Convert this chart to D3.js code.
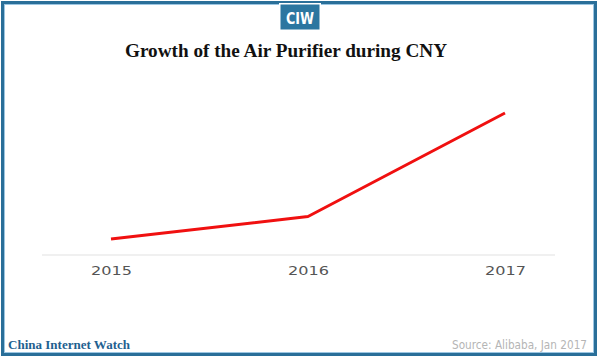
<!DOCTYPE html>
<html>
<head>
<meta charset="utf-8">
<script src="https://cdn.jsdelivr.net/npm/d3@7"></script>
<style>
  html, body { margin: 0; padding: 0; background: #fff; }
  svg { display: block; }
</style>
</head>
<body>
<svg id="chart" width="600" height="359"></svg>
<script>
// Data (relative growth index)
const years = [2015, 2016, 2017];
const values = [16, 38.5, 142];
const tickLabels = ["2015", "2016", "2017"];
const title = "Growth of the Air Purifier during CNY";
const sourceText = "Source: Alibaba, Jan 2017";
const brandText = "China Internet Watch";
const logoText = "CIW";

const svg = d3.select("#chart");

// Frame
svg.append("rect").attr("x", 2.5).attr("y", 2.5).attr("width", 593).attr("height", 352)
  .attr("fill", "none").attr("stroke", "#2a6f99").attr("stroke-width", 3);
svg.append("rect").attr("x", 4.5).attr("y", 4.5).attr("width", 589).attr("height", 348)
  .attr("fill", "none").attr("stroke", "#9cc6e2").attr("stroke-width", 1);

// Logo
svg.append("rect").attr("x", 279).attr("y", 3).attr("width", 42).attr("height", 28)
  .attr("fill", "#fff");
svg.append("rect").attr("x", 280.5).attr("y", 4.5).attr("width", 39).attr("height", 25)
  .attr("fill", "#2c76a0");
svg.append("text").attr("x", 300).attr("y", 24).attr("text-anchor", "middle")
  .attr("font-family", "DejaVu Sans Condensed, DejaVu Sans").attr("font-weight", "bold")
  .attr("font-size", 16).attr("fill", "#fff").attr("textLength", 28)
  .attr("lengthAdjust", "spacingAndGlyphs").text(logoText);

// Title
svg.append("text").attr("x", 286).attr("y", 57).attr("text-anchor", "middle")
  .attr("font-family", "Liberation Serif, DejaVu Serif, serif").attr("font-weight", "bold")
  .attr("font-size", 18).attr("fill", "#111").attr("textLength", 322)
  .attr("lengthAdjust", "spacingAndGlyphs").text(title);

// Scales
const x = d3.scaleLinear().domain([2015, 2017]).range([111, 505]);
const y = d3.scaleLinear().domain([0, 160]).range([255, 95]);

// Baseline
svg.append("line").attr("x1", 42).attr("x2", 555).attr("y1", y(0)).attr("y2", y(0))
  .attr("stroke", "#ebebeb").attr("stroke-width", 1.5);

// X axis labels via d3 axis
const axis = d3.axisBottom(x).tickValues(years).tickFormat((d, i) => tickLabels[i])
  .tickSize(0).tickPadding(10);
const gAxis = svg.append("g").attr("transform", `translate(0,${y(0)})`).call(axis);
gAxis.select(".domain").remove();
gAxis.selectAll("text")
  .attr("font-family", "DejaVu Sans, sans-serif").attr("font-size", 11.5)
  .attr("fill", "#555").attr("textLength", 41).attr("lengthAdjust", "spacingAndGlyphs")
  .attr("dy", "0.9em");

// Line
const line = d3.line().x((d, i) => x(years[i])).y(d => y(d));
svg.append("path").datum(values).attr("d", line)
  .attr("fill", "none").attr("stroke", "#f01010").attr("stroke-width", 3)
  .attr("stroke-linejoin", "round").attr("stroke-linecap", "butt");

// Footer
svg.append("text").attr("x", 8).attr("y", 349)
  .attr("font-family", "Liberation Serif, DejaVu Serif, serif").attr("font-weight", "bold")
  .attr("font-size", 13.5).attr("fill", "#1f6190").attr("textLength", 122)
  .attr("lengthAdjust", "spacingAndGlyphs").text(brandText);
svg.append("text").attr("x", 587).attr("y", 349).attr("text-anchor", "end")
  .attr("font-family", "DejaVu Sans, sans-serif")
  .attr("font-size", 11.5).attr("fill", "#b5b5b5").attr("textLength", 135)
  .attr("lengthAdjust", "spacingAndGlyphs").text(sourceText);
</script>
</body>
</html>
